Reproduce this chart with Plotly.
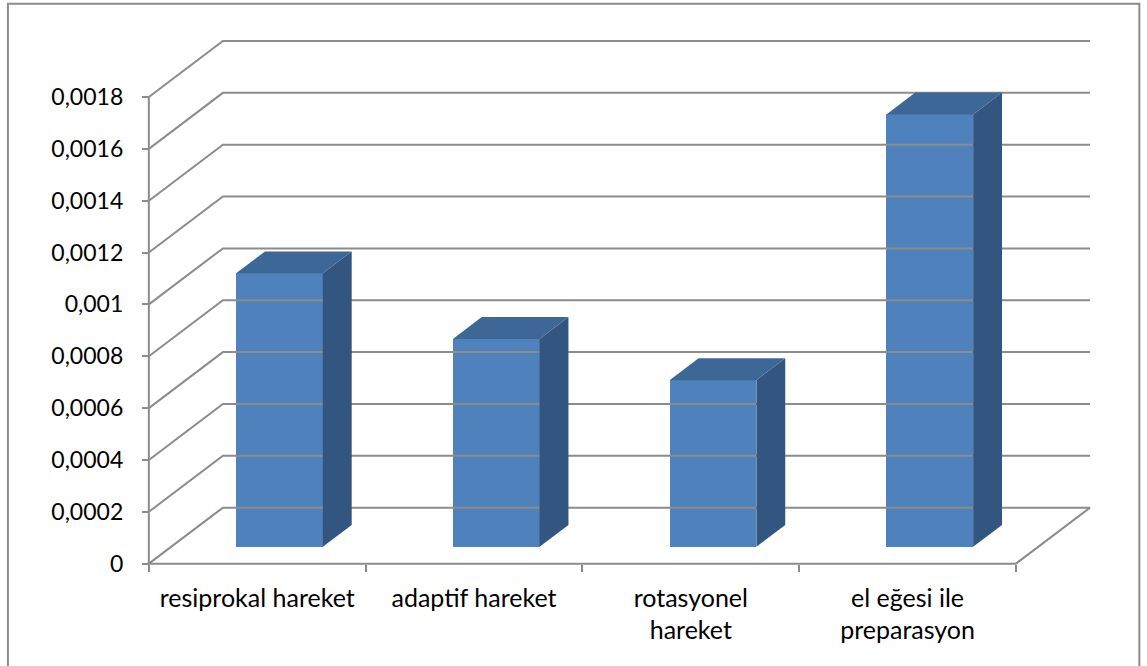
import plotly.graph_objects as go

# ---- data ----
categories = ["resiprokal hareket", "adaptif hareket", "rotasyonel<br>hareket", "el eğesi ile<br>preparasyon"]
values = [0.001055, 0.000802, 0.000643, 0.001668]
y_tickvals = [0, 0.0002, 0.0004, 0.0006, 0.0008, 0.001, 0.0012, 0.0014, 0.0016, 0.0018]
y_ticktext = ["0", "0,0002", "0,0004", "0,0006", "0,0008", "0,001", "0,0012", "0,0014", "0,0016", "0,0018"]

# ---- geometry (oblique 3D projection) ----
W, H = 1147, 666
X0_PX, SX = 149.3, 216.6          # pixel of x=0, px per category
Y0_PX, SY = 563.3, 259250.0       # pixel of y=0, px per value unit
DX = 74 / SX                      # depth offset in x units
DY = 56 / SY                      # depth offset in y units
F0, F1 = 0.30, 0.69               # bar depth (front / back fraction)
BW = 0.40                         # bar width in category units
N = len(categories)

xr = [-0.05, 4.42]
yr = [-0.00004, 0.00207]
left_px = X0_PX + xr[0] * SX
right_px = X0_PX + xr[1] * SX
bottom_px = Y0_PX - yr[0] * SY
top_px = Y0_PX - yr[1] * SY

GRID = "#8c8c8c"
FRONT = "#4f81bd"
SIDE = "#335680"
TOP = "#3d6797"
FONT = "Lato"

fig = go.Figure()

# walls / gridlines
gx, gy = [], []
for v in y_tickvals:
    if v == 0:
        gx += [0, DX, N + DX, N, 0, None]
        gy += [0, DY, DY, 0, 0, None]
    else:
        gx += [0, DX, N + DX, None]
        gy += [v, v + DY, v + DY, None]
gx += [0, 0, None]
gy += [0, y_tickvals[-1], None]
fig.add_trace(go.Scatter(x=gx, y=gy, mode="lines", line=dict(color=GRID, width=2),
                         hoverinfo="skip", showlegend=False))

# bars
ddx = (F1 - F0) * DX
ddy = (F1 - F0) * DY
for i, v in enumerate(values):
    xc = i + 0.5 + F0 * DX
    xl = xc - BW / 2
    xrr = xc + BW / 2
    yb = F0 * DY
    yt = yb + v
    # side face
    fig.add_trace(go.Scatter(x=[xrr, xrr, xrr + ddx, xrr + ddx, xrr],
                             y=[yb, yt, yt + ddy, yb + ddy, yb],
                             mode="lines", fill="toself", fillcolor=SIDE,
                             line=dict(width=0, color=SIDE), hoverinfo="skip", showlegend=False))
    # top face
    fig.add_trace(go.Scatter(x=[xl, xrr, xrr + ddx, xl + ddx, xl],
                             y=[yt, yt, yt + ddy, yt + ddy, yt],
                             mode="lines", fill="toself", fillcolor=TOP,
                             line=dict(width=0, color=TOP), hoverinfo="skip", showlegend=False))

# front faces
fig.add_trace(go.Bar(x=[i + 0.5 + F0 * DX for i in range(N)], y=values,
                     base=[F0 * DY] * N, width=BW,
                     marker=dict(color=FRONT, line=dict(width=0)),
                     hoverinfo="skip", showlegend=False))

# chart border (decoration)
def px2paper_x(p):
    return (p - left_px) / (right_px - left_px)

def px2paper_y(p):
    return (bottom_px - p) / (bottom_px - top_px)

fig.add_shape(type="rect", xref="paper", yref="paper",
              x0=px2paper_x(8.5), x1=px2paper_x(1139), y0=px2paper_y(3.5), y1=px2paper_y(672),
              line=dict(color="#8c8c8c", width=2), fillcolor="rgba(0,0,0,0)", layer="below")

fig.update_layout(
    width=W, height=H,
    margin=dict(l=left_px, r=W - right_px, t=top_px, b=H - bottom_px, pad=0),
    paper_bgcolor="white", plot_bgcolor="white",
    bargap=0, showlegend=False,
    font=dict(family=FONT, size=23, color="black"),
    xaxis=dict(range=xr, anchor="free", position=px2paper_y(Y0_PX),
               tickmode="array", tickvals=[i + 0.5 for i in range(N)], ticktext=categories,
               ticks="", showgrid=False, zeroline=False, showline=False,
               ticklabelstandoff=17,
               tickfont=dict(family=FONT, size=25, color="black"),
               minor=dict(tickmode="array", tickvals=list(range(N + 1)), ticks="outside",
                          ticklen=7, tickwidth=2, tickcolor=GRID, showgrid=False)),
    yaxis=dict(range=yr, anchor="free", position=px2paper_x(X0_PX),
               tickmode="array", tickvals=y_tickvals, ticktext=y_ticktext,
               ticks="outside", ticklen=7, tickwidth=2, tickcolor=GRID,
               showgrid=False, zeroline=False, showline=False,
               ticklabelstandoff=14,
               tickfont=dict(family=FONT, size=23, color="black")),
)

fig.write_html("out.html")
